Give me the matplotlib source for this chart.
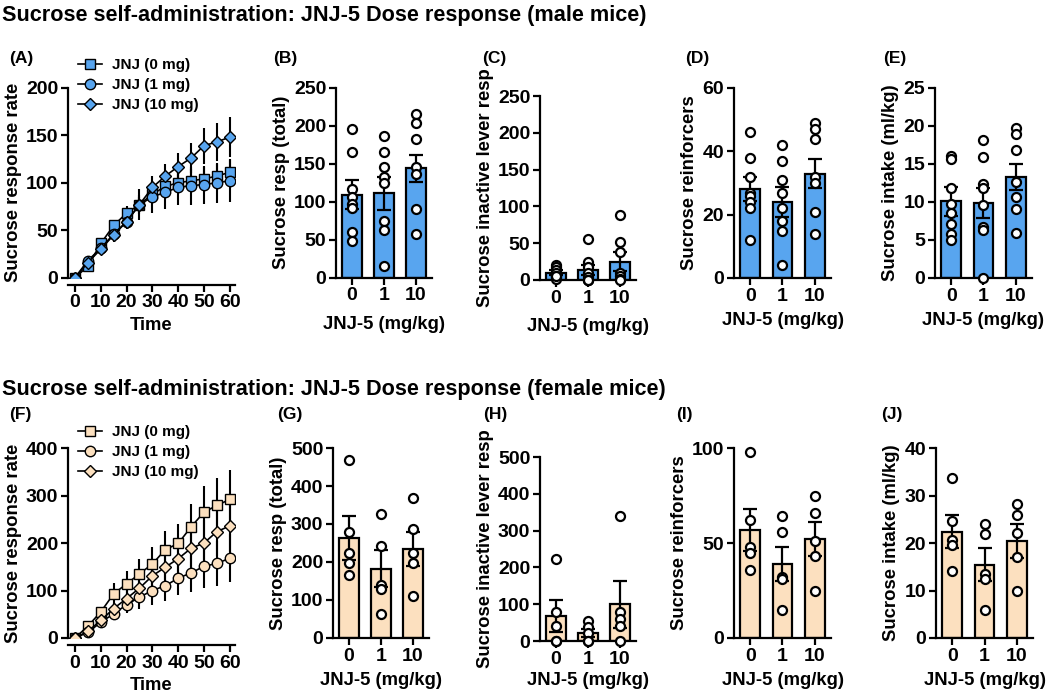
import numpy as np
import matplotlib.pyplot as plt

plt.rcParams['font.family'] = ['Liberation Sans', 'DejaVu Sans']
plt.rcParams['font.weight'] = 'bold'
plt.rcParams['axes.labelweight'] = 'bold'

W, H = 1050, 700
BLUE = '#58A5EF'
PEACH = '#FCE0BF'

# ---- time course data (A, F) ----
time = [0, 5, 10, 15, 20, 25, 30, 35, 40, 45, 50, 55, 60]
doses_legend = ['JNJ (0 mg)', 'JNJ (1 mg)', 'JNJ (10 mg)']

male_0 = [0, 12, 36, 55, 68, 77, 88, 96, 100, 102, 104, 107, 111]
male_1 = [0, 18, 31, 46, 59, 77, 85, 90, 95, 97, 98, 100, 102]
male_10 = [0, 16, 30, 45, 59, 77, 95, 107, 117, 126, 139, 143, 148]
male_0_sem = [0, 3, 5, 6, 7, 8, 9, 10, 11, 12, 12, 13, 14]
male_1_sem = [0, 3, 5, 7, 8, 16, 17, 18, 19, 20, 20, 21, 22]
male_10_sem = [0, 3, 5, 7, 8, 10, 12, 13, 14, 16, 19, 20, 21]

fem_0 = [0, 25, 55, 93, 114, 135, 156, 186, 199, 234, 265, 279, 292]
fem_1 = [0, 12, 33, 51, 70, 86, 100, 110, 126, 137, 151, 157, 168]
fem_10 = [0, 14, 37, 62, 83, 105, 131, 149, 167, 189, 200, 224, 236]
fem_0_sem = [0, 5, 10, 22, 28, 32, 35, 40, 42, 48, 55, 58, 62]
fem_1_sem = [0, 4, 8, 12, 18, 25, 30, 32, 35, 40, 45, 48, 50]
fem_10_sem = [0, 4, 8, 12, 18, 22, 28, 32, 36, 42, 48, 52, 55]

# ---- dose groups (bar panels) ----
dose_labels = ['0', '1', '10']

# B: male total responses
b_mean = [109, 111, 144]
b_sem = [19, 22, 18]
b_pts = [[196, 165, 117, 106, 97, 92, 60, 48],
         [186, 166, 146, 133, 125, 74, 63, 15],
         [215, 204, 183, 145, 137, 90, 58]]
# C: male inactive lever
c_mean = [10, 14, 25]
c_sem = [3, 7, 13]
c_pts = [[20, 18, 14, 10, 6, 4, 2, 6],
         [56, 24, 18, 9, 4, 0, 0, 0],
         [88, 52, 38, 10, 5, 2, 0]]
# D: male reinforcers
d_mean = [28, 24, 33]
d_sem = [3.8, 4.7, 4.6]
d_pts = [[46, 38, 32, 27, 26, 24, 22, 12],
         [42, 37, 31, 27, 22, 18, 15, 4],
         [49, 47, 44, 32, 30, 21, 14]]
# E: male intake
e_mean = [10.1, 9.9, 13.3]
e_sem = [1.9, 2.0, 1.7]
e_pts = [[16.1, 15.7, 11.8, 9.8, 8.5, 7.1, 5.8, 5.0],
         [18.1, 15.9, 12.4, 11.8, 9.6, 6.7, 6.3, 0],
         [19.8, 18.9, 16.9, 12.6, 10.7, 9.1, 5.9]]
# G: female total responses
g_mean = [263, 182, 234]
g_sem = [57, 49, 44]
g_pts = [[469, 279, 224, 197, 165],
         [326, 243, 140, 130, 63],
         [368, 287, 223, 197, 110]]
# H: female inactive lever
h_mean = [68, 22, 100]
h_sem = [43, 10, 64]
h_pts = [[224, 80, 40, 0, 0],
         [55, 39, 21, 0, 0],
         [340, 80, 60, 40, 0]]
# I: female reinforcers
i_mean = [57, 39, 52]
i_sem = [11, 9, 9]
i_pts = [[98, 62, 48, 45, 36],
         [64, 56, 32, 31, 15],
         [75, 66, 51, 43, 25]]
# J: female intake
j_mean = [22.4, 15.4, 20.4]
j_sem = [3.5, 3.5, 3.6]
j_pts = [[33.7, 24.7, 20.6, 19.6, 14.2],
         [23.9, 22.0, 13.5, 12.4, 5.9],
         [28.2, 25.9, 22.2, 17.1, 9.9]]

TICK_FS = 14
LABEL_FS = 13.3

fig = plt.figure(figsize=(W / 100, H / 100), dpi=100)


def px_axes(x0, x1, ytop, ybot):
    return fig.add_axes([x0 / W, 1 - ybot / H, (x1 - x0) / W, (ybot - ytop) / H])


def style(ax):
    for s in ['top', 'right']:
        ax.spines[s].set_visible(False)
    for s in ['left', 'bottom']:
        ax.spines[s].set_linewidth(1.6)
    ax.tick_params(width=1.6, length=5, pad=2, labelsize=TICK_FS)
    for lab in ax.get_xticklabels() + ax.get_yticklabels():
        lab.set_fontweight('bold')


def line_panel(box, series, sems, color, ymax, yticks, legend_xy):
    ax = px_axes(*box)
    markers = ['s', 'o', 'D']
    sizes = [7.5, 7.5, 6.5]
    handles = []
    for k in range(3):
        ax.errorbar(time, series[k], yerr=sems[k], fmt='none', ecolor='black',
                    elinewidth=1.5, capsize=0, zorder=2)
        h, = ax.plot(time, series[k], marker=markers[k], ms=sizes[k], color='black',
                     lw=1.2, mfc=color, mec='black', mew=1.0, zorder=3 + k,
                     label=doses_legend[k])
        handles.append(h)
    ax.set_xlim(-2.7, 62)
    ax.set_ylim(0, ymax)
    ax.set_xticks(range(0, 61, 10))
    ax.set_yticks(yticks)
    ax.spines['bottom'].set_position(('outward', 5))
    ax.set_xlabel('Time', fontsize=LABEL_FS, labelpad=4)
    ax.set_ylabel('Sucrose response rate', fontsize=LABEL_FS, labelpad=3)
    style(ax)
    ax.legend(handles=handles, loc='upper left', frameon=False,
              bbox_to_anchor=(legend_xy[0] / W, 1 - legend_xy[1] / H),
              bbox_transform=fig.transFigure, prop={'weight': 'bold', 'size': 11},
              handlelength=1.6, handletextpad=0.6, labelspacing=0.4,
              borderpad=0, borderaxespad=0)
    return ax


def bar_panel(box, means, sems, pts, color, ymax, yticks, ylabel, xpad=5):
    ax = px_axes(*box)
    x = np.arange(3)
    ax.bar(x, means, width=0.6, color=color, edgecolor='black', linewidth=1.6, zorder=1)
    ax.errorbar(x, means, yerr=sems, fmt='none', ecolor='black', elinewidth=1.6,
                capsize=5, capthick=1.6, zorder=2)
    for k in range(3):
        ax.plot([x[k]] * len(pts[k]), pts[k], 'o', ms=6.5, mfc='white', mec='black',
                mew=1.6, zorder=3, clip_on=False)
    ax.set_xlim(-0.5, 2.5)
    ax.set_ylim(0, ymax)
    ax.set_xticks(x)
    ax.set_xticklabels(dose_labels)
    ax.set_yticks(yticks)
    ax.set_xlabel('JNJ-5 (mg/kg)', fontsize=LABEL_FS, labelpad=xpad)
    ax.set_ylabel(ylabel, fontsize=LABEL_FS, labelpad=3)
    style(ax)
    return ax


# ---- row 1: male ----
line_panel((68, 235, 87.7, 277.7), [male_0, male_1, male_10],
           [male_0_sem, male_1_sem, male_10_sem], BLUE, 200, [0, 50, 100, 150, 200], (78, 58))
bar_panel((336, 432, 87.7, 277.7), b_mean, b_sem, b_pts, BLUE, 250,
          range(0, 251, 50), 'Sucrose resp (total)', xpad=8)
bar_panel((540, 636, 96, 280), c_mean, c_sem, c_pts, BLUE, 250,
          range(0, 251, 50), 'Sucrose inactive lever resp', xpad=8)
bar_panel((734, 831, 88, 278), d_mean, d_sem, d_pts, BLUE, 60,
          [0, 20, 40, 60], 'Sucrose reinforcers')
bar_panel((935, 1032, 88, 278), e_mean, e_sem, e_pts, BLUE, 25,
          range(0, 26, 5), 'Sucrose intake (ml/kg)')

# ---- row 2: female ----
line_panel((68, 235, 448, 638), [fem_0, fem_1, fem_10],
           [fem_0_sem, fem_1_sem, fem_10_sem], PEACH, 400, [0, 100, 200, 300, 400], (78, 425))
bar_panel((333, 429, 448, 638), g_mean, g_sem, g_pts, PEACH, 500,
          range(0, 501, 100), 'Sucrose resp (total)')
bar_panel((540, 636, 457, 641), h_mean, h_sem, h_pts, PEACH, 500,
          range(0, 501, 100), 'Sucrose inactive lever resp', xpad=3)
bar_panel((734, 831, 448, 638), i_mean, i_sem, i_pts, PEACH, 100,
          [0, 50, 100], 'Sucrose reinforcers')
bar_panel((936, 1033, 448, 638), j_mean, j_sem, j_pts, PEACH, 40,
          range(0, 41, 10), 'Sucrose intake (ml/kg)')

# titles and panel letters
fig.text(2 / W, 1 - 15 / H, 'Sucrose self-administration: JNJ-5 Dose response (male mice)',
         fontsize=15.6, fontweight='bold', va='center', ha='left')
fig.text(2 / W, 1 - 389 / H, 'Sucrose self-administration: JNJ-5 Dose response (female mice)',
         fontsize=15.6, fontweight='bold', va='center', ha='left')

letters = [('(A)', 21, 58), ('(B)', 285, 58), ('(C)', 494, 59), ('(D)', 697, 58),
           ('(E)', 895, 58), ('(F)', 20, 415), ('(G)', 290, 415), ('(H)', 495, 415),
           ('(I)', 684, 415), ('(J)', 892, 415)]
for txt, lx, ly in letters:
    fig.text(lx / W, 1 - ly / H, txt, fontsize=12.5, fontweight='bold', ha='center', va='center')

fig.savefig('out.png', dpi=100)
